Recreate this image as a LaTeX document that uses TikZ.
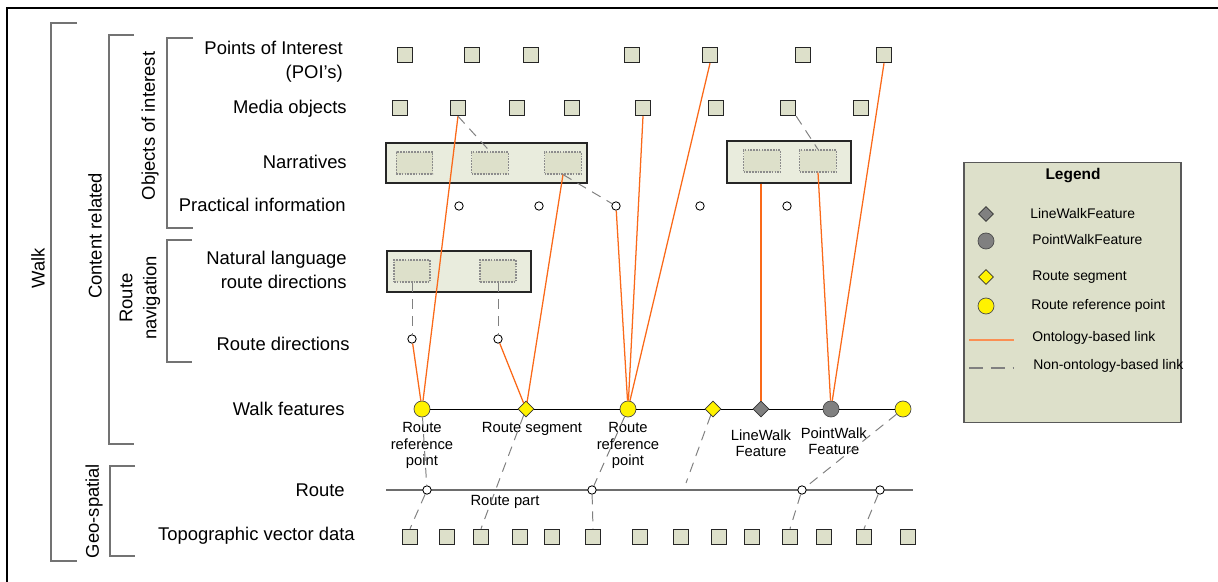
\documentclass[tikz,border=0pt]{standalone}
\usepackage{fontspec}
\setmainfont{Liberation Sans}
\usetikzlibrary{shapes.geometric, positioning, backgrounds}
\definecolor{objfill}{RGB}{221,224,202}
\definecolor{narrfill}{RGB}{233,236,221}
\definecolor{linkorange}{RGB}{250,105,25}
\definecolor{markgray}{RGB}{128,128,128}
\definecolor{bracketgray}{RGB}{115,115,115}

\begin{document}
\begin{tikzpicture}[
                x=0.025cm, y=-0.025cm,
                rowlabel/.style={anchor=east, align=right, inner sep=0pt, font=\fontsize{13.1}{17}\selectfont},
                grouplabel/.style={rotate=90, align=center, inner sep=0pt, font=\fontsize{13.1}{17}\selectfont},
                featlabel/.style={align=center, inner sep=0pt, font=\fontsize{10.5}{11.8}\selectfont},
                legtext/.style={anchor=west, inner sep=0pt, font=\fontsize{9.9}{11}\selectfont},
                obj/.style={rectangle, draw=black!85, fill=objfill, line width=0.9pt, minimum size=0.38cm, inner sep=0pt},
                narr/.style={rectangle, draw=black!85, fill=narrfill, line width=0.9pt, inner sep=0pt},
                part/.style={rectangle, draw=black!45, dash pattern=on 1.2pt off 0.8pt, fill=objfill, line width=0.8pt, minimum width=0.92cm, minimum height=0.55cm, inner sep=0pt},
                hub/.style={circle, draw=black, fill=white, line width=0.6pt, minimum size=0.21cm, inner sep=0pt},
                refpt/.style={circle, draw=black!70, fill=yellow, line width=0.5pt, minimum size=0.4cm, inner sep=0pt},
                segm/.style={diamond, draw=black!80, fill=yellow, line width=0.5pt, minimum size=0.4cm, inner sep=0pt},
                linefeat/.style={segm, fill=markgray},
                pointfeat/.style={refpt, fill=markgray},
                onto/.style={linkorange, line width=0.9pt},
                nonto/.style={markgray, line width=0.7pt, dash pattern=on 7pt off 5pt},
                bracket/.style={bracketgray, line width=0.8pt}
            ]%
            \useasboundingbox (0,0) rectangle (1218,582);
            \draw[line width=1.5pt] (7,582) -- (7,8) -- (1218,8);
            %
            % === Brackets (left) ===
            \draw[bracket] (77,23) -| (51,561) -- (77,561);
            \draw[bracket] (134,35) -| (109,444) -- (134,444);
            \draw[bracket] (193,38) -| (167,228) -- (193,228);
            \draw[bracket] (192,240) -| (167,362) -- (192,362);
            \draw[bracket] (135,466) -| (110,556) -- (135,556);
            \node[grouplabel] (walk) at (38,268) {Walk};
            \node[grouplabel] (content) at (95,236) {Content related};
            \node[grouplabel] (objects) at (150,126) {Objects of interest};
            \node[grouplabel] (routenav) at (140,298) {Route\\navigation};
            \node[grouplabel] (geo) at (94,511) {Geo-spatial};
            %
            % === Row labels ===
            \node[rowlabel] (l_poi) at (343,62) {Points of Interest\\(POI’s)};
            \node[rowlabel] (l_media) at (347,109) {Media objects};
            \node[rowlabel] (l_narr) at (347,162) {Narratives};
            \node[rowlabel] (l_prac) at (346,205) {Practical information};
            \node[rowlabel] (l_nlrd) at (347,270) {Natural language\\route directions};
            \node[rowlabel] (l_rdir) at (350,344) {Route directions};
            \node[rowlabel] (l_wf) at (345,409) {Walk features};
            \node[rowlabel] (l_route) at (345,490) {Route};
            \node[rowlabel] (l_topo) at (355,536) {Topographic vector data};
            %
            % === Points of interest ===
            \node[obj] (poi1) at (405,55) {};
            \node[obj] (poi2) at (472,55) {};
            \node[obj] (poi3) at (531,55) {};
            \node[obj] (poi4) at (632,55) {};
            \node[obj] (poi5) at (710,55) {};
            \node[obj] (poi6) at (803,55) {};
            \node[obj] (poi7) at (884,55) {};
            %
            % === Media objects ===
            \node[obj] (media1) at (400,108) {};
            \node[obj] (media2) at (458,108) {};
            \node[obj] (media3) at (517,108) {};
            \node[obj] (media4) at (572,108) {};
            \node[obj] (media5) at (643,108) {};
            \node[obj] (media6) at (716,108) {};
            \node[obj] (media7) at (788,108) {};
            \node[obj] (media8) at (861,108) {};
            %
            % === Narratives ===
            \node[narr, minimum width=5.025cm, minimum height=1cm] (narr1) at (486.5,163) {};
            \node[part] (narr1a) at (414.5,163) {};
            \node[part] (narr1b) at (490,163) {};
            \node[part] (narr1c) at (563,163) {};
            \node[narr, minimum width=3.1cm, minimum height=1.05cm] (narr2) at (789,162) {};
            \node[part] (narr2a) at (762,161) {};
            \node[part] (narr2b) at (818,161) {};
            %
            % === Practical information ===
            \node[hub] (prac1) at (459,206) {};
            \node[hub] (prac2) at (539,206) {};
            \node[hub] (prac3) at (616,206) {};
            \node[hub] (prac4) at (700,206) {};
            \node[hub] (prac5) at (787,206) {};
            %
            % === Route navigation ===
            \node[narr, minimum width=3.6cm, minimum height=1.025cm] (nlrd) at (459,271.5) {};
            \node[part, minimum width=0.9cm] (nlrda) at (412,271) {};
            \node[part, minimum width=0.9cm] (nlrdb) at (498,271) {};
            \node[hub] (rdir1) at (412,339) {};
            \node[hub] (rdir2) at (498,339) {};
            %
            % === Walk features ===
            \node[refpt] (wf1) at (422,409) {};
            \node[segm] (wf2) at (526,409) {};
            \node[refpt] (wf3) at (628,409) {};
            \node[segm] (wf4) at (713,409) {};
            \node[linefeat] (wf5) at (761,409) {};
            \node[pointfeat] (wf6) at (831,409) {};
            \node[refpt] (wf7) at (903,409) {};
            \draw[line width=0.7pt] (wf1) -- (wf2) -- (wf3) -- (wf4) -- (wf5) -- (wf6) -- (wf7);
            \node[featlabel, below=3.5pt of wf1] (wf1_lbl) {Route\\reference\\point};
            \node[featlabel, below=3.5pt of wf2, xshift=0.15cm] (wf2_lbl) {Route segment};
            \node[featlabel, below=3.5pt of wf3] (wf3_lbl) {Route\\reference\\point};
            \node[featlabel, below=0.3cm of wf5] (wf5_lbl) {LineWalk\\Feature};
            \node[featlabel, below=0.25cm of wf6, xshift=0.07cm] (wf6_lbl) {PointWalk\\Feature};
            %
            % === Route (geo-spatial) ===
            \coordinate (r_start) at (386,490);
            \coordinate (r_end) at (913,490);
            \coordinate (r_gap) at (686,483);
            \draw[markgray!85!black, line width=1.2pt] (r_start) -- (r_end);
            \node[hub] (rpt1) at (427,490) {};
            \node[hub] (rpt2) at (592,490) {};
            \node[hub] (rpt3) at (802,490) {};
            \node[hub] (rpt4) at (880,490) {};
            \node[featlabel] (rpart) at (505,502) {Route part};
            %
            % === Topographic vector data ===
            \node[obj] (topo1) at (410,537) {};
            \node[obj] (topo2) at (447,537) {};
            \node[obj] (topo3) at (481,537) {};
            \node[obj] (topo4) at (520,537) {};
            \node[obj] (topo5) at (552,537) {};
            \node[obj] (topo6) at (593,537) {};
            \node[obj] (topo7) at (640,537) {};
            \node[obj] (topo8) at (681,537) {};
            \node[obj] (topo9) at (719,537) {};
            \node[obj] (topo10) at (752,537) {};
            \node[obj] (topo11) at (790,537) {};
            \node[obj] (topo12) at (824,537) {};
            \node[obj] (topo13) at (864,537) {};
            \node[obj] (topo14) at (908,537) {};
            %
            % Ontology-based links
            \draw[onto] (media2.south) -- (wf1);
            \draw[onto] (rdir1) -- (wf1);
            \draw[onto] (narr1c.south) -- (wf2);
            \draw[onto] (rdir2) -- (wf2);
            \draw[onto] (prac3) -- (wf3);
            \draw[onto] (media5.south) -- (wf3);
            \draw[onto] (poi5.south) -- (wf3);
            \draw[onto] (narr2.south -| wf5) -- (wf5);
            \draw[onto] (narr2b.south) -- (wf6);
            \draw[onto] (poi7.south) -- (wf6);
            %
            % Non-ontology-based links
            \draw[nonto] (media2.south) -- (narr1b.north);
            \draw[nonto] (narr1c.south) -- (prac3);
            \draw[nonto] (media7.south east) -- (narr2b.north);
            \draw[nonto] (nlrda.south) -- (rdir1);
            \draw[nonto] (nlrdb.south) -- (rdir2);
            \draw[nonto] (wf1) -- (rpt1);
            \draw[nonto] (rpt1) -- (topo1.north);
            \draw[nonto] (wf2) -- (topo3.north);
            \draw[nonto] (wf3) -- (rpt2);
            \draw[nonto] (rpt2) -- (topo6.north);
            \draw[nonto] (wf4) -- (r_gap);
            \draw[nonto] (wf7) -- (rpt3);
            \draw[nonto] (rpt3) -- (topo11.north);
            \draw[nonto] (rpt4) -- (topo13.north);
            %
            % === Legend ===
            \node[rectangle, draw=black!65, fill=objfill, line width=0.8pt, minimum width=5.425cm, minimum height=6.5cm] (leg) at (1072.5,292.5) {};
            \node[font=\fontsize{11}{13}\selectfont\bfseries] (leg_title) at (1073,176) {Legend};
            \node[linefeat, minimum size=0.38cm] (leg_lwf) at (986,214) {};
            \node[pointfeat] (leg_pwf) at (986,241) {};
            \node[segm, minimum size=0.38cm] (leg_seg) at (986,277) {};
            \node[refpt] (leg_rp) at (986,306) {};
            \draw[linkorange!75, line width=1.1pt] (969,340) -- (1014,340);
            \draw[markgray, line width=0.8pt, dash pattern=on 10pt off 5.5pt] (969,368) -- (1014,368);
            \node[legtext] (leg_lwf_t) at (1030,214) {LineWalkFeature};
            \node[legtext] (leg_pwf_t) at (1032,240) {PointWalkFeature};
            \node[legtext] (leg_seg_t) at (1032,277) {Route segment};
            \node[legtext] (leg_rp_t) at (1031,306) {Route reference point};
            \node[legtext] (leg_onto_t) at (1032,338) {Ontology-based link};
            \node[legtext] (leg_nonto_t) at (1033,366) {Non-ontology-based link};
        \end{tikzpicture}
\end{document}
